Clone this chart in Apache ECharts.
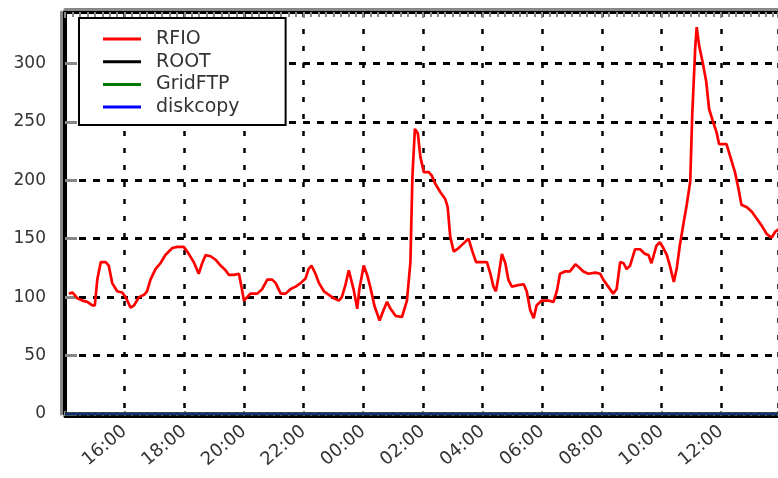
<!DOCTYPE html>
<html>
<head>
<meta charset="utf-8">
<script src="https://cdn.jsdelivr.net/npm/echarts@6/dist/echarts.min.js"></script>
<style>html,body{margin:0;padding:0;background:#fff}#c{width:778px;height:478px}</style>
</head>
<body>
<div id="c"></div>
<script>
// ---- data ----
const seriesNames = ["RFIO", "ROOT", "GridFTP", "diskcopy"];
const seriesColors = ["#ff0000", "#000000", "#007700", "#0000ff"];
const times = ["14:08","14:15","14:25","14:35","14:45","14:55","15:00","15:05","15:12","15:22","15:28","15:35","15:45","15:55",
"16:02","16:12","16:19","16:29","16:39","16:45","16:52","17:02","17:12","17:22","17:36","17:46","17:59",
"18:09","18:19","18:29","18:36","18:43","18:53","19:03","19:13","19:23","19:30","19:40","19:50","19:55",
"20:00","20:13","20:27","20:37","20:47","20:57","21:04","21:14","21:24","21:34","21:44","21:54",
"22:04","22:10","22:16","22:24","22:31","22:41","22:51","23:01","23:11","23:17","23:24","23:31","23:35","23:41","23:48","23:52",
"00:01","00:08","00:14","00:23","00:33","00:41","00:48","00:55","01:05","01:18","01:28","01:35","01:39","01:44","01:50","01:55",
"02:02","02:12","02:18","02:25","02:35","02:45","02:50","02:55","03:02","03:12","03:22","03:32","03:39","03:47","03:59",
"04:09","04:16","04:22","04:27","04:32","04:39","04:46","04:52","04:59","05:09","05:23","05:29","05:36","05:43","05:49","05:59",
"06:13","06:23","06:30","06:36","06:46","06:56","07:07","07:13","07:23","07:33","07:47","07:57",
"08:03","08:13","08:23","08:30","08:37","08:44","08:50","08:57","09:07","09:17","09:27","09:34","09:40","09:50","09:57",
"10:04","10:11","10:17","10:25","10:31","10:37","10:44","10:51","10:58","11:02","11:08","11:11","11:16","11:23","11:30","11:36","11:44","11:51","11:56",
"12:11","12:18","12:28","12:35","12:41","12:52","13:02","13:12","13:22","13:32","13:42","13:49","13:56"];
const rfio = [103,104,99,97,96,93,93,115,130,130,127,112,105,104,
100,91,93,100,102,105,115,124,129,136,142,143,143,
137,130,120,129,136,135,132,127,123,119,119,120,109,
97,103,103,107,115,115,112,103,103,107,109,112,
116,124,127,120,112,105,102,99,97,100,110,123,122,106,90,106,
127,119,109,92,80,89,96,90,84,83,97,130,203,244,240,220,
207,207,204,197,190,184,177,152,139,142,146,150,140,130,130,
130,120,109,105,117,137,129,115,109,110,111,105,89,82,93,97,
97,96,106,120,122,122,128,126,122,120,121,120,
115,109,103,107,130,129,124,127,141,141,137,136,129,144,147,
142,136,127,113,125,144,162,179,199,256,313,331,315,301,285,261,250,241,231,
231,221,207,193,179,177,173,167,161,154,151,156,158];
const flatTimes = ["14:00", "13:59"];
const rootVals = [0, 0];
const gridftpVals = [0, 0];
const diskcopyVals = [0, 0];
const yTicks = [0, 50, 100, 150, 200, 250, 300];
const xTickLabels = ["16:00","18:00","20:00","22:00","00:00","02:00","04:00","06:00","08:00","10:00","12:00"];

// hours since start of day, wrapping past midnight (window starts 14:00)
function toHours(s) {
  const p = s.split(":");
  let h = +p[0] + (+p[1]) / 60;
  if (h < 14) h += 24;
  return h;
}
function pairs(ts, vs) { return ts.map((t, i) => [toHours(t), vs[i]]); }

const X_MIN = 14, X_MAX = 37.91, Y_MAX = 344;
const font = "DejaVu Sans";

const chart = echarts.init(document.getElementById('c'), null, {renderer: 'canvas'});
chart.setOption({
  animation: false,
  backgroundColor: '#fff',
  grid: {left: 65, right: 0, top: 12, bottom: 64, containLabel: false},
  legend: {
    data: seriesNames,
    orient: 'vertical',
    left: 79, top: 18,
    backgroundColor: '#fff',
    borderColor: '#000', borderWidth: 2,
    padding: [10, 46, 7, 24],
    icon: 'rect',
    itemWidth: 38, itemHeight: 3, itemGap: 0.7,
    textStyle: {fontFamily: font, fontSize: 19, lineHeight: 22, color: '#333', padding: [0, 0, 0, 10]},
    z: 10
  },
  xAxis: [{
    type: 'value', min: X_MIN, max: X_MAX, interval: 2, position: 'bottom', offset: 2,
    axisLine: {show: true, onZero: false, lineStyle: {color: '#000', width: 3}},
    axisTick: {show: true, inside: true, length: 5, lineStyle: {color: '#888', width: 2}},
    minorTick: {show: true, splitNumber: 8, length: 4, lineStyle: {color: '#888', width: 2}},
    splitLine: {show: true, lineStyle: {color: '#000', width: 2.5, type: [5, 12]}},
    axisLabel: {
      rotate: 40, margin: 13, fontFamily: font, fontSize: 18, color: '#333',
      showMinLabel: false, showMaxLabel: false,
      formatter: v => { const h = Math.round(v) % 24; const s = (h < 10 ? '0' : '') + h + ':00'; return xTickLabels.indexOf(s) >= 0 ? s : ''; }
    }
  }, {
    type: 'value', min: X_MIN, max: X_MAX, interval: 2, position: 'top',
    axisLine: {show: true, onZero: false, lineStyle: {color: '#000', width: 3}},
    axisTick: {show: true, inside: true, length: 6, lineStyle: {color: '#888', width: 2}},
    minorTick: {show: true, splitNumber: 8, length: 5, lineStyle: {color: '#888', width: 2}},
    splitLine: {show: false}, axisLabel: {show: false}
  }, {
    type: 'value', min: X_MIN, max: X_MAX, position: 'top', offset: 3,
    axisLine: {show: true, onZero: false, lineStyle: {color: '#888', width: 3}},
    axisTick: {show: false}, splitLine: {show: false}, axisLabel: {show: false}
  }],
  yAxis: [{
    type: 'value', min: 0, max: Y_MAX, interval: 50, position: 'left',
    axisLine: {show: true, lineStyle: {color: '#000', width: 4}},
    axisTick: {show: true, inside: true, length: 12, lineStyle: {color: '#888', width: 3}},
    splitLine: {show: true, lineStyle: {color: '#000', width: 3, type: [7, 7]}},
    axisLabel: {
      margin: 19, fontFamily: font, fontSize: 17, color: '#333', showMaxLabel: false,
      formatter: v => yTicks.indexOf(v) >= 0 ? String(v) : ''
    }
  }, {
    type: 'value', min: 0, max: 1, position: 'left', offset: 3.5,
    axisLine: {show: true, lineStyle: {color: '#888', width: 3}},
    axisTick: {show: false}, splitLine: {show: false}, axisLabel: {show: false}
  }],
  series: [
    {name: seriesNames[0], type: 'line', data: pairs(times, rfio), symbol: 'none',
     lineStyle: {color: seriesColors[0], width: 2.7}, itemStyle: {color: seriesColors[0]}, z: 5},
    {name: seriesNames[1], type: 'line', data: pairs(flatTimes, rootVals), symbol: 'none',
     lineStyle: {color: seriesColors[1], width: 3}, itemStyle: {color: seriesColors[1]}, z: 3},
    {name: seriesNames[2], type: 'line', data: pairs(flatTimes, gridftpVals), symbol: 'none',
     lineStyle: {color: seriesColors[2], width: 3}, itemStyle: {color: seriesColors[2]}, z: 3},
    {name: seriesNames[3], type: 'line', data: pairs(flatTimes, diskcopyVals), symbol: 'none',
     lineStyle: {color: '#1a2a6e', width: 3}, itemStyle: {color: seriesColors[3]}, z: 4}
  ]
});
</script>
</body>
</html>
